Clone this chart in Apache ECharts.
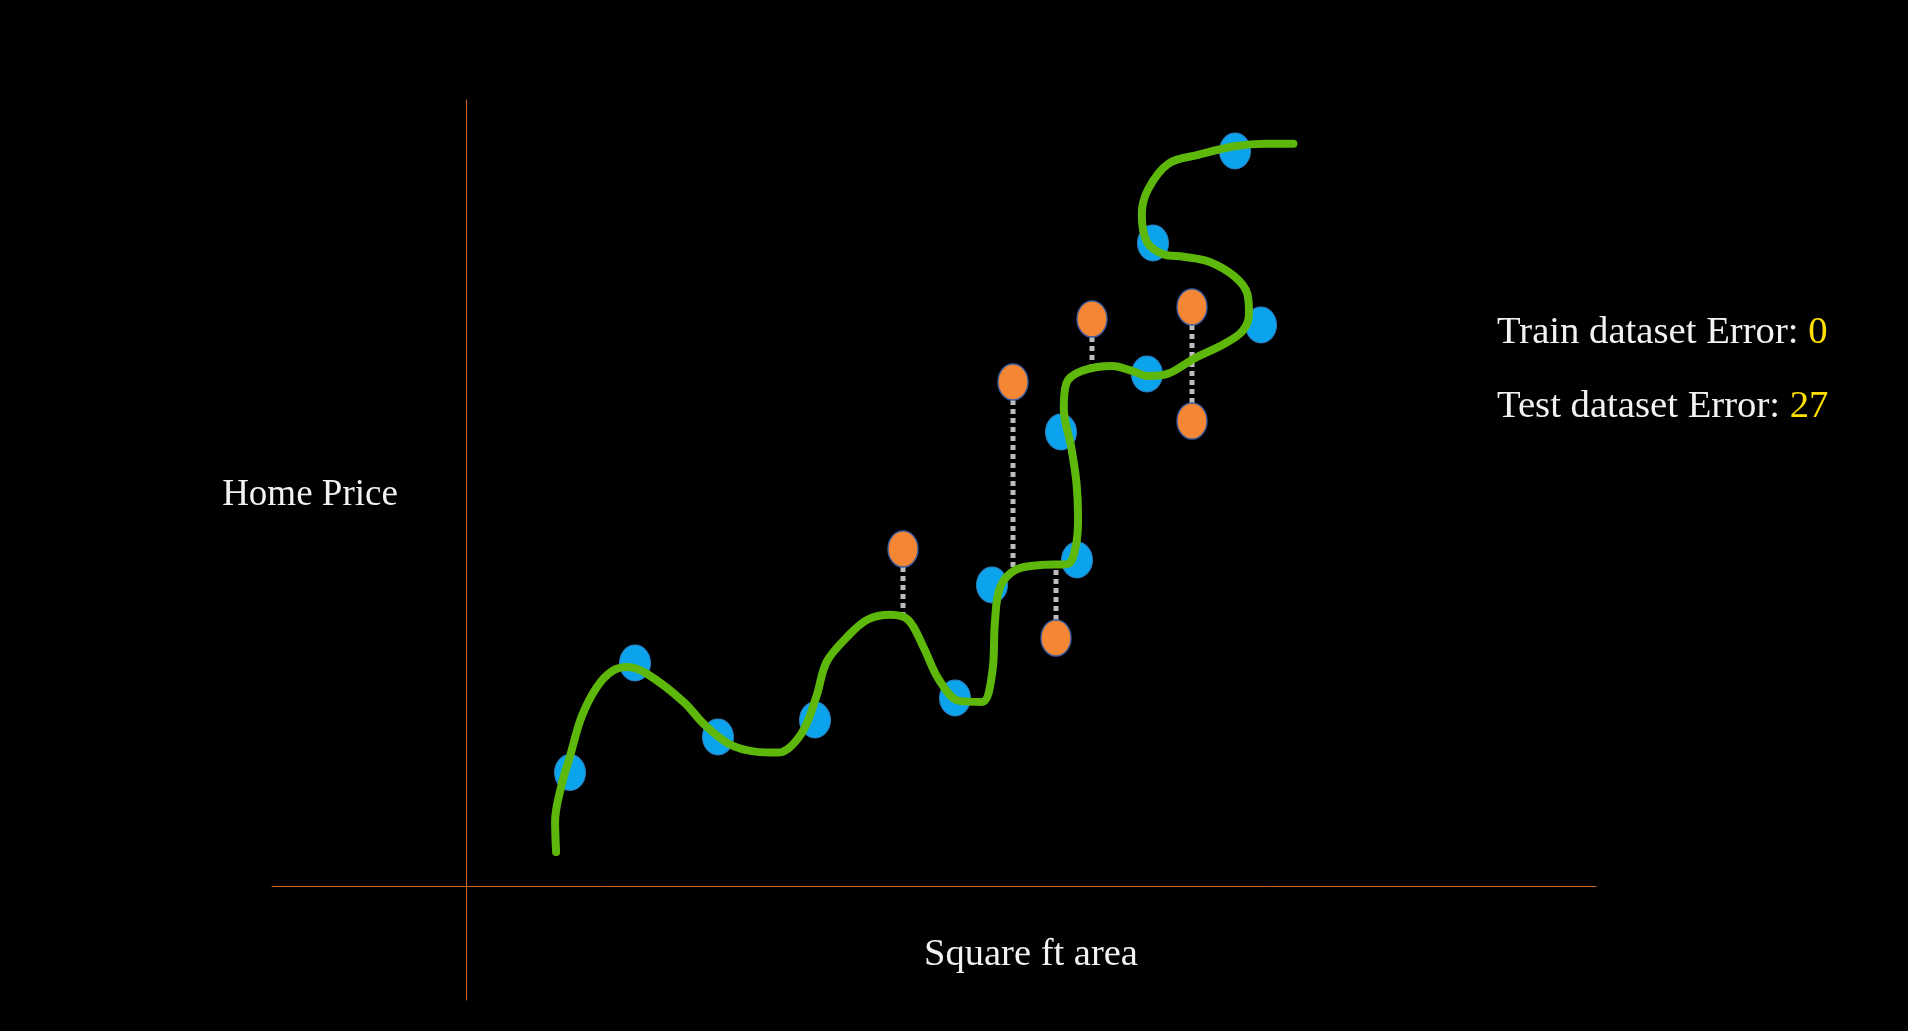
<!DOCTYPE html>
<html>
<head>
<meta charset="utf-8">
<script src="https://cdn.jsdelivr.net/npm/echarts@6/dist/echarts.min.js"></script>
<style>
  html, body { margin: 0; padding: 0; background: #000; }
  #chart { width: 1908px; height: 1031px; }
</style>
</head>
<body>
<div id="chart"></div>
<script>
// Training points (blue)
const trainX = [10.4, 16.9, 25.2, 34.9, 48.9, 52.6, 61.1, 59.5, 68.1, 79.5, 68.7, 76.9];
const trainY = [11.35, 22.3, 14.9, 16.6, 18.8, 30.1, 32.6, 45.4, 51.2, 56.1, 64.3, 73.5];

// Test points (orange) and the overfit curve's prediction at each
const testX    = [43.7, 54.7, 59.0, 62.6, 72.6, 72.6];
const testY    = [33.7, 50.4, 24.8, 56.7, 57.9, 46.5];
const testPred = [26.9, 31.7, 32.1, 51.8, 52.6, 52.6];

// Hand-drawn overfit curve (traced)
const curveX = [9.01, 8.91, 9.52, 10.39, 11.56, 13.09, 14.62, 16.16, 18.2, 21.77, 23.81, 26.36, 28.91, 31.21,
  33.5, 35.03, 36.05, 38.09, 40.13, 42.43, 44.22, 45.75, 47.28, 49.32, 51.61, 52.63, 52.89, 53.4, 54.93,
  57.48, 60.13, 60.95, 61.21, 61.05, 60.54, 59.78, 60.03, 61.56, 64.62, 66.67, 68.2, 70.24, 72.79, 75.85,
  77.63, 78.3, 78.14, 76.87, 74.32, 71.77, 69.73, 68.09, 67.58, 68.2, 70.24, 73.3, 76.87, 79.93, 82.74];
const curveY = [3.39, 6.47, 9.95, 12.94, 16.92, 19.9, 21.49, 21.89, 21.15, 18.41, 16.17, 14.18, 13.44, 13.34,
  15.18, 18.91, 22.39, 24.88, 26.62, 27.12, 26.62, 23.88, 20.65, 18.51, 18.41, 21.39, 26.37, 29.85, 31.59,
  32.09, 32.19, 33.83, 36.82, 40.3, 43.78, 47.76, 50.25, 51.49, 51.99, 51.49, 50.99, 51.24, 52.73, 54.23,
  55.47, 57.21, 59.2, 60.94, 62.43, 62.93, 63.18, 64.42, 67.16, 69.65, 72.23, 73.13, 73.97, 74.22, 74.22];

// Texts
const xAxisTitle = 'Square ft area';
const yAxisTitle = 'Home Price';
const trainLabel = 'Train dataset Error: ';
const trainError = '0';
const testLabel = 'Test dataset Error: ';
const testError = '27';

const zip = (a, b) => a.map((v, i) => [v, b[i]]);
const ellipse = 'path://M0,1a1,1 0 1,0 2,0a1,1 0 1,0 -2,0z';
const serif = '"Liberation Serif", "Times New Roman", serif';

const errorSeries = testX.map((x, i) => ({
  type: 'line',
  data: [[x, testY[i]], [x, testPred[i]]],
  showSymbol: false,
  symbol: 'none',
  silent: true,
  z: 1,
  lineStyle: { color: '#BDBDBD', width: 5, type: [5, 4] }
}));

const chart = echarts.init(document.getElementById('chart'));
chart.setOption({
  backgroundColor: '#000000',
  animation: false,
  grid: { left: 272, right: 312, top: 100, bottom: 31 },
  xAxis: {
    type: 'value', min: -19.4, max: 113.0,
    axisLine: { show: true, onZero: true, lineStyle: { color: '#D26A2A', width: 1 } },
    axisTick: { show: false }, axisLabel: { show: false }, splitLine: { show: false }
  },
  yAxis: {
    type: 'value', min: -11.4, max: 78.6,
    axisLine: { show: true, onZero: true, lineStyle: { color: '#D26A2A', width: 1 } },
    axisTick: { show: false }, axisLabel: { show: false }, splitLine: { show: false }
  },
  series: [
    ...errorSeries,
    {
      type: 'scatter',
      data: zip(trainX, trainY),
      symbol: ellipse,
      symbolSize: [31, 36],
      z: 2,
      itemStyle: { color: '#0BA4EC', borderColor: '#2E7FC0', borderWidth: 1, opacity: 1 }
    },
    {
      type: 'line',
      data: zip(curveX, curveY),
      smooth: 0.35,
      showSymbol: false,
      symbol: 'none',
      z: 3,
      lineStyle: { color: '#5DB80B', width: 8, cap: 'round', join: 'round' }
    },
    {
      type: 'scatter',
      data: zip(testX, testY),
      symbol: ellipse,
      symbolSize: [30, 36],
      z: 4,
      itemStyle: { color: '#F58634', borderColor: '#3F5F9F', borderWidth: 1.5, opacity: 1 }
    }
  ],
  graphic: [
    {
      type: 'text',
      x: 310, y: 495,
      style: { text: yAxisTitle, fill: '#F2F2F2', font: '37px ' + serif, align: 'center', verticalAlign: 'middle' }
    },
    {
      type: 'text',
      x: 1031, y: 955,
      style: { text: xAxisTitle, fill: '#F2F2F2', font: '38.5px ' + serif, align: 'center', verticalAlign: 'middle' }
    },
    {
      type: 'text',
      x: 1497, y: 333,
      style: {
        text: '{w|' + trainLabel + '}{y|' + trainError + '}',
        verticalAlign: 'middle', align: 'left',
        rich: {
          w: { fill: '#F2F2F2', font: '38.7px ' + serif },
          y: { fill: '#FFE000', font: '38.7px ' + serif }
        }
      }
    },
    {
      type: 'text',
      x: 1497, y: 407,
      style: {
        text: '{w|' + testLabel + '}{y|' + testError + '}',
        verticalAlign: 'middle', align: 'left',
        rich: {
          w: { fill: '#F2F2F2', font: '38.7px ' + serif },
          y: { fill: '#FFE000', font: '38.7px ' + serif }
        }
      }
    }
  ]
});
</script>
</body>
</html>
